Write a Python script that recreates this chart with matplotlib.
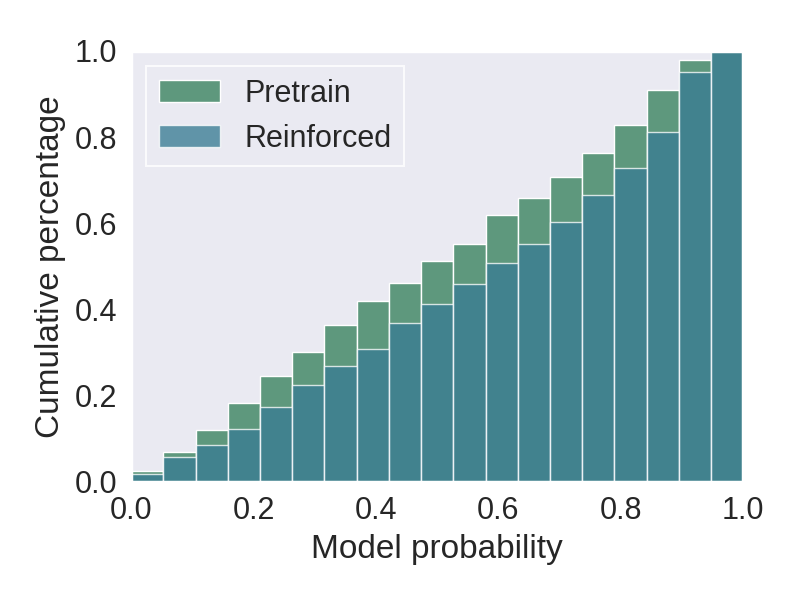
import numpy as np
import matplotlib
matplotlib.use("Agg")
from matplotlib import pyplot as plt
import seaborn as sns

# cumulative fraction per bin (19 bins over [0, 1])
pretrain = [0.026, 0.070, 0.121, 0.184, 0.245, 0.302, 0.365, 0.420, 0.462, 0.513,
            0.553, 0.620, 0.659, 0.708, 0.763, 0.828, 0.910, 0.980, 1.000]
reinforced = [0.017, 0.057, 0.086, 0.122, 0.173, 0.225, 0.269, 0.308, 0.369, 0.413,
              0.460, 0.507, 0.553, 0.604, 0.665, 0.728, 0.811, 0.951, 1.000]
labels = ["Pretrain", "Reinforced"]

sns.set_theme(style="dark", context="poster")
plt.rcParams["font.family"] = ["Liberation Sans", "DejaVu Sans"]

n_bins = len(pretrain)
edges = np.linspace(0, 1, n_bins + 1)
width = 1 / n_bins

fig, ax = plt.subplots(figsize=(8, 6), dpi=100)
fig.subplots_adjust(left=0.164, right=0.929, top=0.915, bottom=0.197)

ax.bar(edges[:-1], pretrain, width=width, align="edge", color="#5e987d",
       edgecolor="white", linewidth=1, label=labels[0])
ax.bar(edges[:-1], reinforced, width=width, align="edge", color="#397c93",
       alpha=0.78, edgecolor="white", linewidth=1, label=labels[1])

ax.set_xlim(0, 1)
ax.set_ylim(0, 1)
ax.set_xticks([0.0, 0.2, 0.4, 0.6, 0.8, 1.0])
ax.set_yticks([0.0, 0.2, 0.4, 0.6, 0.8, 1.0])
ax.tick_params(length=0, pad=10)
ax.set_xlabel("Model probability", labelpad=6)
ax.set_ylabel("Cumulative percentage", labelpad=6)
leg = ax.legend(loc="upper left", fancybox=False)
leg.get_frame().set_edgecolor("white")
leg.get_frame().set_linewidth(1.5)

fig.savefig("out.png", dpi=100)
